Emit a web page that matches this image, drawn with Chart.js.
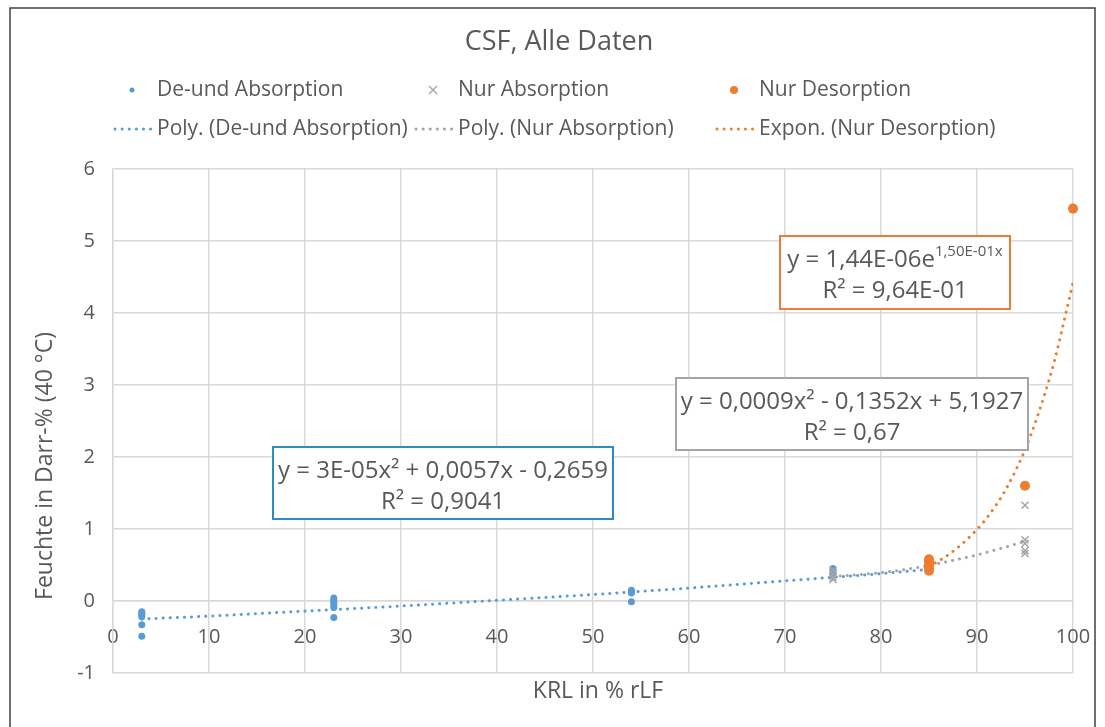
<!DOCTYPE html>
<html lang="de">
<head>
    <meta charset="UTF-8">
    <title>CSF, Alle Daten</title>
    <script src="https://cdn.jsdelivr.net/npm/chart.js"></script>
    <style>
        html, body {
            margin: 0;
            padding: 0;
            background: #ffffff;
        }
        #wrap {
            width: 1105px;
            height: 727px;
        }
    </style>
</head>
<body>
    <div id="wrap"><canvas id="chart" width="1105" height="727"></canvas></div>

    <script>
        "use strict";

        const deUndX = [3, 3, 3, 3, 3, 3, 23, 23, 23, 23, 23, 23, 54, 54, 54, 54, 75, 75, 75, 85, 85];
        const deUndY = [-0.15, -0.17, -0.19, -0.22, -0.33, -0.49, 0.04, 0.01, -0.02, -0.05, -0.09, -0.23,
                        0.15, 0.13, 0.11, -0.01, 0.45, 0.40, 0.36, 0.47, 0.52];

        const nurAbsX = [75, 75, 75, 75, 85, 85, 95, 95, 95, 95, 95];
        const nurAbsY = [0.43, 0.38, 0.33, 0.30, 0.45, 0.50, 1.33, 0.85, 0.80, 0.70, 0.66];

        const nurDesX = [85, 85, 85, 85, 85, 95, 100];
        const nurDesY = [0.42, 0.46, 0.50, 0.54, 0.58, 1.60, 5.45];

        // trend lines
        const polyDeX = [3, 10, 20, 30, 40, 50, 60, 70, 80, 85];
        const polyDeY = [-0.25, -0.21, -0.14, -0.07, 0.01, 0.09, 0.18, 0.28, 0.38, 0.44];

        const polyNurX = [75, 78, 81, 84, 87, 90, 93, 95];
        const polyNurY = [0.34, 0.37, 0.41, 0.47, 0.55, 0.64, 0.75, 0.83];

        const exponX = [85, 87, 89, 91, 93, 95, 96, 97, 98, 99, 100];
        const exponY = [0.48, 0.64, 0.86, 1.15, 1.55, 2.10, 2.45, 2.85, 3.30, 3.85, 4.42];

        const seriesNames = ['De-und Absorption', 'Nur Absorption', 'Nur Desorption'];
        const trendNames = ['Poly. (De-und Absorption)', 'Poly. (Nur Absorption)', 'Expon. (Nur Desorption)'];

        const BLUE = '#5b9bd5';
        const GREY = '#a5a5a5';
        const ORANGE = '#ed7d31';
        const TEXT = '#595959';
        const FONT = "'Open Sans', sans-serif";

        const pts = (xs, ys) => xs.map((x, i) => ({ x: x, y: ys[i] }));

        function trend(label, xs, ys, color) {
            return {
                label: label,
                data: pts(xs, ys),
                showLine: true,
                borderColor: color,
                borderWidth: 3,
                borderDash: [0.1, 7],
                borderCapStyle: 'round',
                cubicInterpolationMode: 'monotone',
                pointRadius: 0,
                order: 5
            };
        }

        // title, legend, axis titles, equation boxes, frame
        const decorations = {
            id: 'decorations',
            beforeDraw(chart) {
                const ctx = chart.ctx;
                ctx.save();
                ctx.fillStyle = '#ffffff';
                ctx.fillRect(0, 0, chart.width, chart.height);
                ctx.strokeStyle = '#404040';
                ctx.lineWidth = 1.5;
                ctx.strokeRect(10, 8, 1085, 760);
                ctx.restore();
            },
            afterDraw(chart) {
                const ctx = chart.ctx;
                ctx.save();
                ctx.fillStyle = TEXT;
                ctx.textBaseline = 'middle';

                // title
                ctx.textAlign = 'center';
                ctx.font = '27px ' + FONT;
                ctx.fillText('CSF, Alle Daten', 559, 42);

                // legend
                const cols = [{ m: 132, l0: 113, t: 157 }, { m: 433, l0: 414, t: 458 }, { m: 734, l0: 715, t: 759 }];
                const colors = [BLUE, GREY, ORANGE];
                ctx.textAlign = 'left';
                ctx.font = '21px ' + FONT;
                cols.forEach((c, i) => {
                    const y1 = 90, y2 = 129;
                    ctx.fillStyle = TEXT;
                    ctx.fillText(seriesNames[i], c.t, y1);
                    ctx.fillText(trendNames[i], c.t, y2);
                    // marker
                    if (i === 1) {
                        ctx.strokeStyle = colors[i];
                        ctx.lineWidth = 1.3;
                        ctx.beginPath();
                        ctx.moveTo(c.m - 4, y1 - 4); ctx.lineTo(c.m + 4, y1 + 4);
                        ctx.moveTo(c.m + 4, y1 - 4); ctx.lineTo(c.m - 4, y1 + 4);
                        ctx.stroke();
                    } else {
                        ctx.fillStyle = colors[i];
                        ctx.beginPath();
                        ctx.arc(c.m, y1, i === 0 ? 2.5 : 4, 0, Math.PI * 2);
                        ctx.fill();
                    }
                    // dotted line
                    ctx.strokeStyle = colors[i];
                    ctx.lineWidth = 3;
                    ctx.lineCap = 'round';
                    ctx.setLineDash([0.1, 7]);
                    ctx.beginPath();
                    ctx.moveTo(c.l0 + 2, y2);
                    ctx.lineTo(c.l0 + 38, y2);
                    ctx.stroke();
                    ctx.setLineDash([]);
                    ctx.lineCap = 'butt';
                });

                // axis titles
                ctx.fillStyle = TEXT;
                ctx.textAlign = 'center';
                ctx.font = '23px ' + FONT;
                ctx.fillText('KRL in % rLF', 598, 691);
                ctx.save();
                ctx.translate(45, 466);
                ctx.rotate(-Math.PI / 2);
                ctx.fillText('Feuchte in Darr-% (40 °C)', 0, 0);
                ctx.restore();

                // equation boxes
                const boxes = [
                    { x: 273, y: 447, w: 340, h: 72, color: '#2e8bc0', l1: 'y = 3E-05x² + 0,0057x - 0,2659', l2: 'R² = 0,9041' },
                    { x: 676, y: 378, w: 352, h: 72, color: GREY, l1: 'y = 0,0009x² - 0,1352x + 5,1927', l2: 'R² = 0,67' },
                    { x: 780, y: 236, w: 230, h: 73, color: ORANGE, l1: 'y = 1,44E-06e', sup: '1,50E-01x', l2: 'R² = 9,64E-01' }
                ];
                boxes.forEach(b => {
                    ctx.fillStyle = '#ffffff';
                    ctx.fillRect(b.x, b.y, b.w, b.h);
                    ctx.strokeStyle = b.color;
                    ctx.lineWidth = 2;
                    ctx.strokeRect(b.x, b.y, b.w, b.h);
                    ctx.fillStyle = TEXT;
                    const cx = b.x + b.w / 2;
                    ctx.font = '24px ' + FONT;
                    if (b.sup) {
                        const w1 = ctx.measureText(b.l1).width;
                        ctx.font = '15px ' + FONT;
                        const w2 = ctx.measureText(b.sup).width;
                        const x0 = cx - (w1 + w2) / 2;
                        ctx.textAlign = 'left';
                        ctx.font = '24px ' + FONT;
                        ctx.fillText(b.l1, x0, b.y + 24);
                        ctx.font = '15px ' + FONT;
                        ctx.fillText(b.sup, x0 + w1, b.y + 16);
                        ctx.textAlign = 'center';
                        ctx.font = '24px ' + FONT;
                    } else {
                        ctx.textAlign = 'center';
                        ctx.fillText(b.l1, cx, b.y + 24);
                    }
                    ctx.fillText(b.l2, cx, b.y + 55);
                });

                ctx.restore();
            }
        };

        const gridColor = '#d9d9d9';

        new Chart(document.getElementById('chart'), {
            type: 'scatter',
            data: {
                datasets: [
                    {
                        label: seriesNames[0],
                        data: pts(deUndX, deUndY),
                        pointStyle: 'circle',
                        pointRadius: 3.5,
                        backgroundColor: BLUE,
                        borderColor: BLUE,
                        borderWidth: 0,
                        clip: false,
                        order: 3
                    },
                    {
                        label: seriesNames[1],
                        data: pts(nurAbsX, nurAbsY),
                        pointStyle: 'crossRot',
                        pointRadius: 5,
                        borderColor: GREY,
                        backgroundColor: GREY,
                        borderWidth: 1.5,
                        clip: false,
                        order: 2
                    },
                    {
                        label: seriesNames[2],
                        data: pts(nurDesX, nurDesY),
                        pointStyle: 'circle',
                        pointRadius: 5,
                        backgroundColor: ORANGE,
                        borderColor: ORANGE,
                        borderWidth: 0,
                        clip: false,
                        order: 1
                    },
                    trend(trendNames[0], polyDeX, polyDeY, BLUE),
                    trend(trendNames[1], polyNurX, polyNurY, GREY),
                    trend(trendNames[2], exponX, exponY, ORANGE)
                ]
            },
            options: {
                responsive: false,
                animation: false,
                layout: { padding: { left: 0, right: 32, top: 169, bottom: 54 } },
                plugins: {
                    legend: { display: false },
                    title: { display: false },
                    tooltip: { enabled: false }
                },
                scales: {
                    x: {
                        type: 'linear',
                        position: { y: 0 },
                        min: 0,
                        max: 100,
                        afterFit(scale) { scale.paddingLeft = 0; scale.paddingRight = 0; },
                        ticks: { stepSize: 10, color: TEXT, padding: 24, font: { family: FONT, size: 20 } },
                        grid: { color: gridColor, lineWidth: 1.5, drawTicks: false },
                        border: { color: gridColor, width: 1.5 }
                    },
                    y: {
                        type: 'linear',
                        position: 'left',
                        min: -1,
                        max: 6,
                        afterFit(scale) { scale.width = 113; },
                        ticks: { stepSize: 1, color: TEXT, padding: 18, font: { family: FONT, size: 20 } },
                        grid: { color: gridColor, lineWidth: 1.5, drawTicks: false },
                        border: { color: gridColor, width: 1.5 }
                    }
                }
            },
            plugins: [decorations]
        });
    </script>
</body>
</html>
